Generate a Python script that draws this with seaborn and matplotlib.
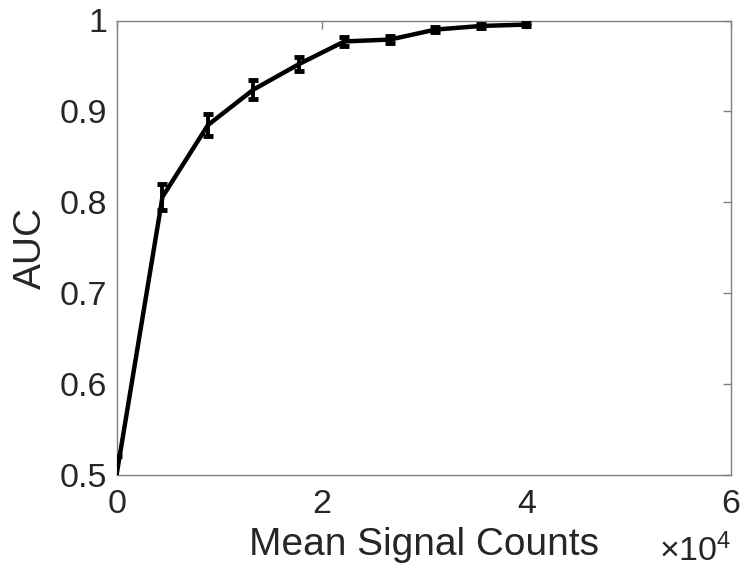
import numpy as np
import pandas as pd
import matplotlib
matplotlib.use("Agg")
import matplotlib.pyplot as plt
import seaborn as sns

counts = [0, 4444, 8889, 13333, 17778, 22222, 26667, 31111, 35556, 40000]
auc = [0.503, 0.806, 0.885, 0.924, 0.952, 0.977, 0.979, 0.990, 0.994, 0.9955]
err = [0.018, 0.014, 0.012, 0.010, 0.008, 0.005, 0.004, 0.003, 0.002, 0.002]
xticks = [0, 20000, 40000, 60000]
xticklabels = ["0", "2", "4", "6"]
yticks = [0.5, 0.6, 0.7, 0.8, 0.9, 1.0]
yticklabels = ["0.5", "0.6", "0.7", "0.8", "0.9", "1"]

sns.set_style("white")
plt.rcParams['font.family'] = ['Liberation Sans', 'DejaVu Sans']
plt.rcParams['mathtext.fontset'] = 'custom'
plt.rcParams['mathtext.rm'] = 'Liberation Sans'
plt.rcParams['mathtext.it'] = 'Liberation Sans'

df = pd.DataFrame({"counts": counts, "auc": auc, "err": err})

fig = plt.figure(figsize=(7.41, 5.68), dpi=100)
ax = fig.add_axes([117/741, 93/568, (731-117)/741, (475-20.5)/568])

sns.lineplot(data=df, x="counts", y="auc", ax=ax, color="black", linewidth=3.2, zorder=3)
ax.errorbar(df["counts"], df["auc"], yerr=df["err"], fmt="none", ecolor="black",
            elinewidth=2.8, capsize=3.5, capthick=3.5, zorder=4, clip_on=True)

ax.set_xlim(0, 60000)
ax.set_ylim(0.5, 1.0)
ax.set_xticks(xticks)
ax.set_xticklabels(xticklabels)
ax.set_yticks(yticks)
ax.set_yticklabels(yticklabels)
ax.tick_params(direction="in", length=6, width=1.0, color="#808080", labelsize=24.5,
               labelcolor="#262626", top=True, right=True, pad=7)
ax.tick_params(axis="x", pad=10)
for s in ax.spines.values():
    s.set_color("#808080")
    s.set_linewidth(1.0)
    s.set_visible(True)

ax.set_xlabel("Mean Signal Counts", fontsize=28, color="#262626", labelpad=5)
ax.set_ylabel("AUC", fontsize=28, color="#262626", labelpad=8)
ax.text(1.0, (475-561)/454.5, r"$\times10^4$", transform=ax.transAxes, ha="right",
        va="baseline", fontsize=24.5, color="#262626")

fig.savefig("out.png", dpi=100)
